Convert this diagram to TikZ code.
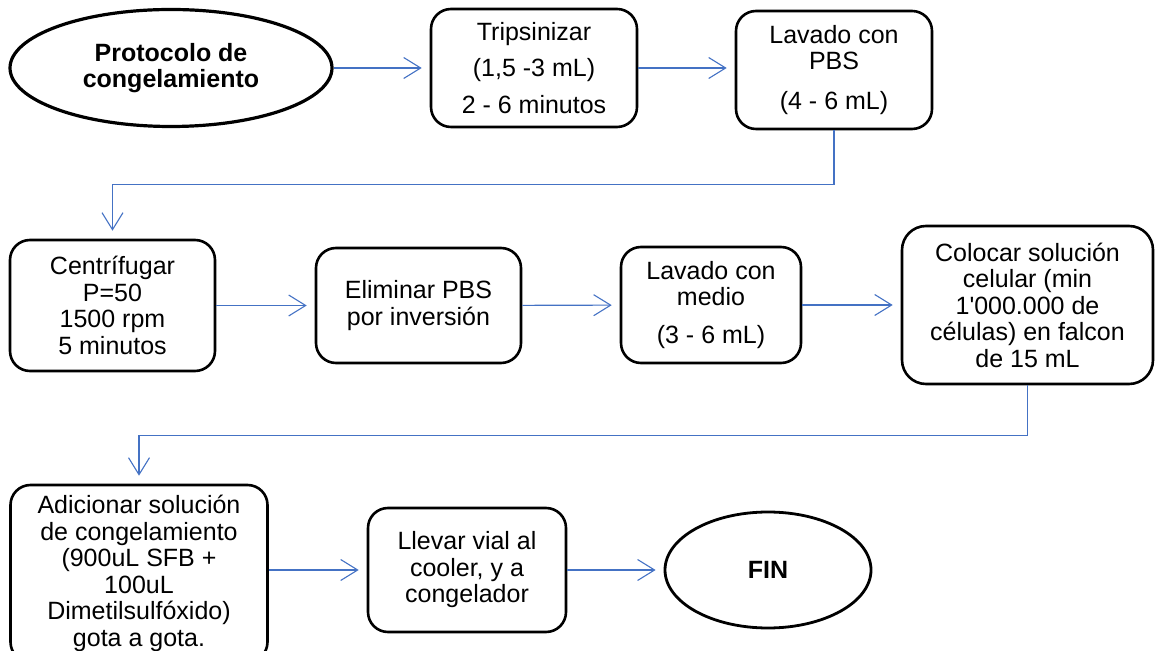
\documentclass[tikz,border=0pt]{standalone}
\usepackage{fontspec}
\setmainfont{Liberation Sans}
\usetikzlibrary{shapes.geometric,arrows.meta}
\definecolor{linkblue}{RGB}{68,114,196}
\begin{document}
\begin{tikzpicture}[
    x=0.5pt, y=-0.5pt,
    every node/.style={font=\fontsize{12.5}{13.25}\selectfont, align=center, inner sep=0pt},
    box/.style={rectangle, draw, line width=1.3pt, rounded corners=10pt},
    terminal/.style={ellipse, draw, line width=1.4pt, font=\fontsize{12.5}{13.25}\selectfont\bfseries},
    arrow/.style={-{Straight Barb[length=8.5pt,width=10.5pt]}, draw=linkblue, line width=0.55pt, shorten >=4pt}
]
    \useasboundingbox (0,0) rectangle (1155,651);

    % first row
    \node[terminal, minimum width=161pt, minimum height=58.5pt, line width=1.6pt] (start) at (171,68) {Protocolo de\\congelamiento};
    \node[box, minimum width=103pt, minimum height=59pt] (trypsin) at (534,68) {Tripsinizar\\[5pt](1,5 -3 mL)\\[5pt]2 - 6 minutos};
    \node[box, minimum width=98pt, minimum height=59pt] (washpbs) at (834,70) {Lavado con\\PBS\\[6.75pt](4 - 6 mL)};

    % second row
    \node[box, minimum width=102.5pt, minimum height=65.5pt] (centrifuge) at (112.5,305.5) {Centrífugar\\P=50\\1500 rpm\\5 minutos};
    \node[box, minimum width=102.5pt, minimum height=57.5pt] (removepbs) at (418.5,305.5) {Eliminar PBS\\por inversión};
    \node[box, minimum width=90pt, minimum height=58pt] (washmedium) at (711,305) {Lavado con\\medio\\[5.75pt](3 - 6 mL)};
    \node[box, minimum width=125.5pt, minimum height=79pt, rounded corners=12pt] (cells) at (1027.5,305) {Colocar solución\\celular (min\\1\textquotesingle 000.000 de\\células) en falcon\\de 15 mL};

    % third row
    \node[box, minimum width=128.5pt, minimum height=88.5pt] (freezesol) at (139,573.5) {Adicionar solución\\de congelamiento\\(900uL SFB +\\100uL\\Dimetilsulfóxido)\\gota a gota.};
    \node[box, minimum width=99pt, minimum height=62pt] (vial) at (467,570) {Llevar vial al\\cooler, y a\\congelador};
    \node[terminal, minimum width=103pt, minimum height=58pt] (finish) at (768,570) {FIN};

    \draw[arrow] (start) -- (trypsin);
    \draw[arrow] (trypsin) -- (washpbs.west |- trypsin);
    \draw[arrow] (washpbs.south) -- ++(0,54) -| (centrifuge.north);
    \draw[arrow] (centrifuge) -- (removepbs);
    \draw[arrow] (removepbs) -- (washmedium);
    \draw[arrow] (washmedium) -- (cells);
    \draw[arrow] (cells.south) -- ++(0,50) -| (freezesol.north);
    \draw[arrow] (freezesol.east |- vial) -- (vial);
    \draw[arrow] (vial) -- (finish);
\end{tikzpicture}
\end{document}
